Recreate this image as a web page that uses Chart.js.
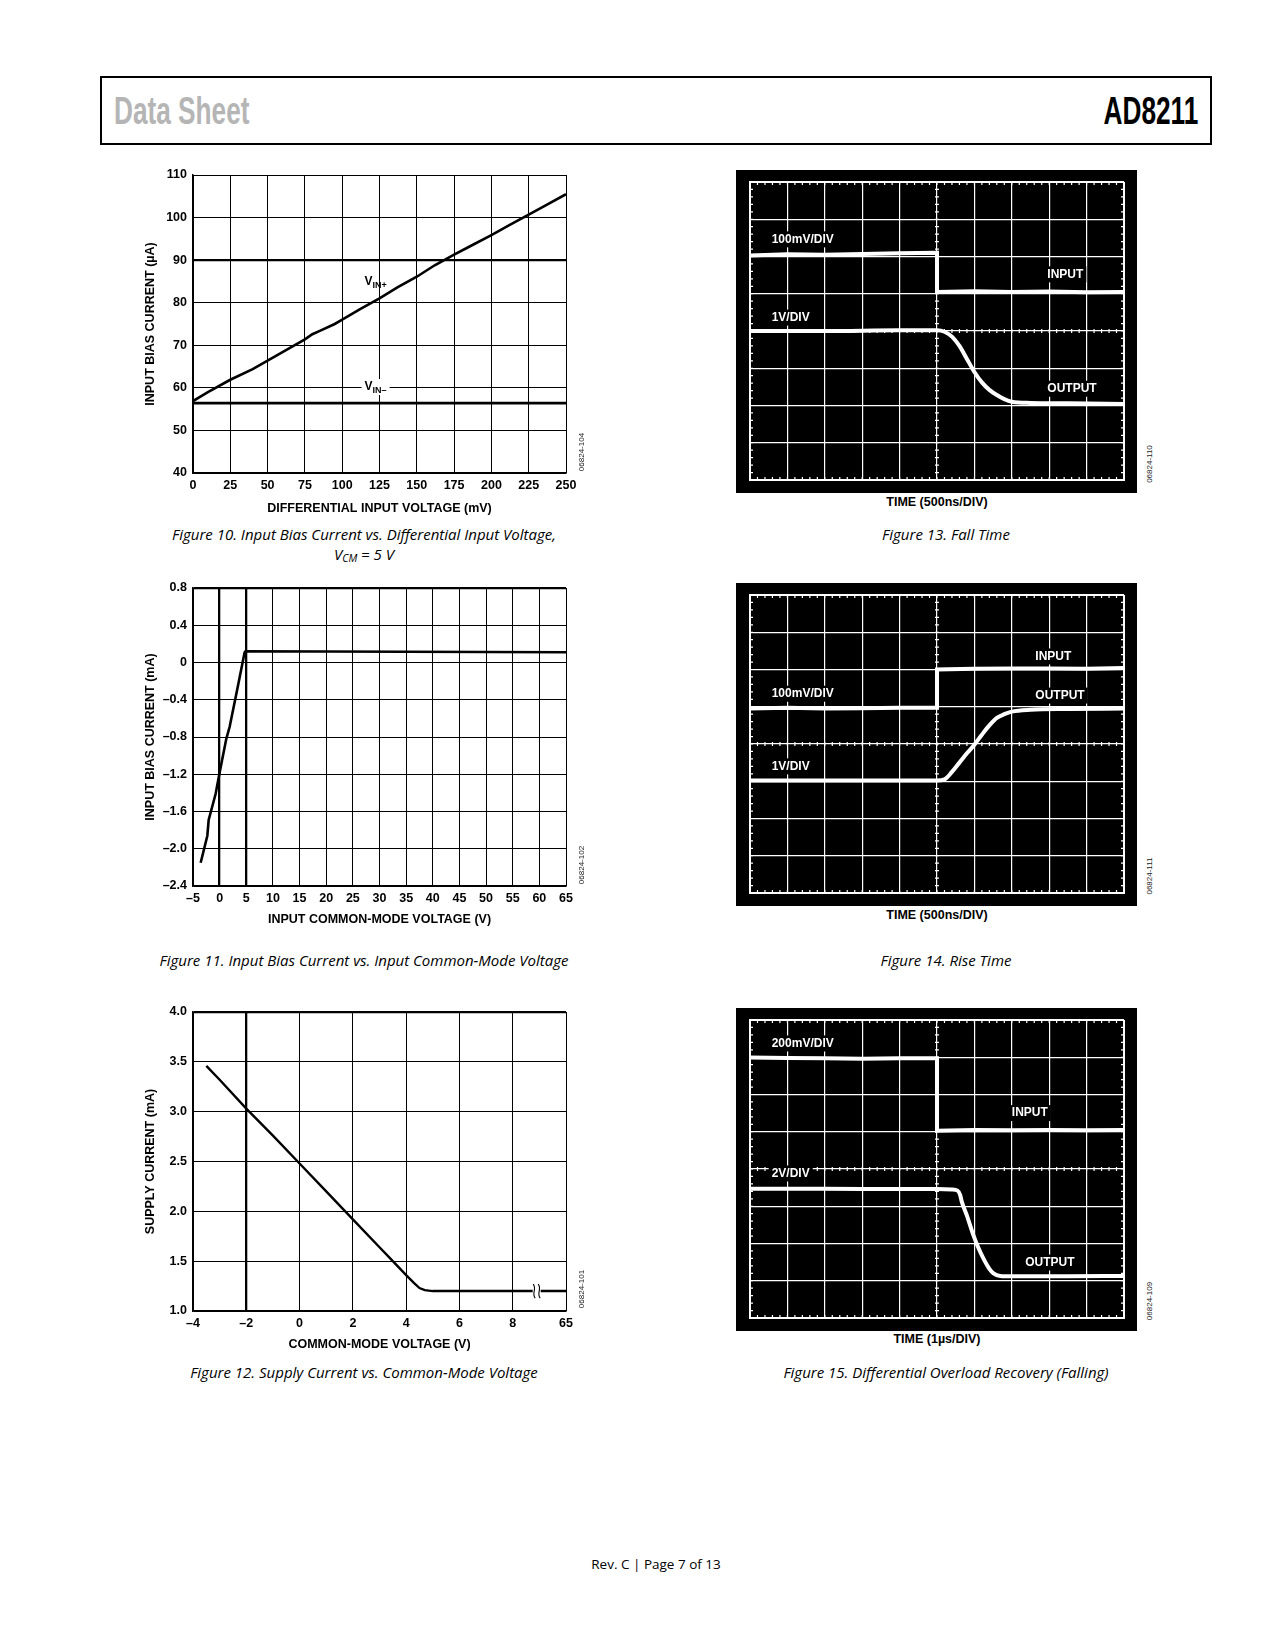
<!DOCTYPE html>
<html>
  <head>
    <title>AD8211 Data Sheet - Rev. C, Page 7</title>
    <meta charset="UTF-8">
    <style>
      body {
        margin: 0;
        background: #fff;
      }
      .page {
        position: relative;
        width: 1275px;
        height: 1650px;
        overflow: hidden;
      }
      .hdr {
        position: absolute;
        left: 100px;
        top: 76px;
        width: 1108px;
        height: 65px;
        border: 2px solid #000;
      }
      .hdr-left, .hdr-right {
        position: absolute;
        top: 11px;
        font-family: "Liberation Sans", Arial, sans-serif;
        font-size: 38px;
        line-height: 44px;
        white-space: nowrap;
      }
      .hdr-left {
        left: 12px;
        color: #b5b5b5;
        font-weight: bold;
        transform: scaleX(0.69);
        transform-origin: left center;
      }
      .hdr-right {
        right: 12px;
        color: #000;
        font-weight: bold;
        transform: scaleX(0.69);
        transform-origin: right center;
      }
      canvas {
        position: absolute;
      }
      .scope {
        background: #000;
      }
      .cap {
        position: absolute;
        width: 560px;
        text-align: center;
        font-family: "Open Sans", "Noto Sans", sans-serif;
        font-style: italic;
        font-size: 15px;
        line-height: 20px;
        color: #000;
      }
      .cap sub {
        font-size: 10.5px;
        vertical-align: -2px;
      }
      .xlab {
        position: absolute;
        width: 300px;
        text-align: center;
        font-family: "Liberation Sans", Arial, sans-serif;
        font-weight: bold;
        font-size: 12.5px;
        line-height: 14px;
      }
      .id {
        position: absolute;
        width: 60px;
        text-align: center;
        font-family: "Liberation Sans", Arial, sans-serif;
        font-size: 8px;
        line-height: 10px;
        color: #222;
        transform: rotate(-90deg);
      }
      footer {
        position: absolute;
        left: 456px;
        top: 1555px;
        width: 400px;
        text-align: center;
        font-family: "Open Sans", "Noto Sans", sans-serif;
        font-size: 13.5px;
        line-height: 18px;
      }
    </style>
  </head>
  <body>
    <div class="page">
      <div class="hdr">
        <div class="hdr-left">Data Sheet</div>
        <div class="hdr-right">AD8211</div>
      </div>

      <!-- left column: measured curves -->
      <canvas id="fig10" width="460" height="357" style="left:140px; top:160px;"></canvas>
      <div class="id" style="left:552px; top:447px;">06824-104</div>
      <div class="cap" style="left:84px; top:524px;">Figure 10. Input Bias Current vs. Differential Input Voltage,<br>V<sub>CM</sub> = 5 V</div>

      <canvas id="fig11" width="460" height="355" style="left:140px; top:573px;"></canvas>
      <div class="id" style="left:552px; top:860px;">06824-102</div>
      <div class="cap" style="left:84px; top:950px;">Figure 11. Input Bias Current vs. Input Common-Mode Voltage</div>

      <canvas id="fig12" width="460" height="356" style="left:140px; top:997px;"></canvas>
      <div class="id" style="left:552px; top:1284px;">06824-101</div>
      <div class="cap" style="left:84px; top:1362px;">Figure 12. Supply Current vs. Common-Mode Voltage</div>

      <!-- right column: scope shots -->
      <canvas id="fig13" class="scope" width="401" height="323" style="left:736px; top:170px;"></canvas>
      <div class="xlab" style="left:787px; top:495px;">TIME (500ns/DIV)</div>
      <div class="id" style="left:1120px; top:459px;">06824-110</div>
      <div class="cap" style="left:666px; top:524px;">Figure 13. Fall Time</div>

      <canvas id="fig14" class="scope" width="401" height="323" style="left:736px; top:583px;"></canvas>
      <div class="xlab" style="left:787px; top:908px;">TIME (500ns/DIV)</div>
      <div class="id" style="left:1120px; top:871px;">06824-111</div>
      <div class="cap" style="left:666px; top:950px;">Figure 14. Rise Time</div>

      <canvas id="fig15" class="scope" width="401" height="323" style="left:736px; top:1008px;"></canvas>
      <div class="xlab" style="left:787px; top:1332px;">TIME (1µs/DIV)</div>
      <div class="id" style="left:1120px; top:1296px;">06824-109</div>
      <div class="cap" style="left:666px; top:1362px;">Figure 15. Differential Overload Recovery (Falling)</div>

      <footer>Rev. C | Page 7 of 13</footer>
    </div>

    <script src="https://cdn.jsdelivr.net/npm/chart.js@4.4.1/dist/chart.umd.min.js"></script>
    <script>
    // Figure 10: input bias current (uA) vs differential input voltage (mV)
    var fig10Vdiff = [0, 10, 25, 40, 50, 65, 75, 80, 85, 95, 100, 112, 125, 137, 150, 162, 175, 187, 200, 212, 225, 237, 250];
    var fig10VinPlus = [56.9, 59.0, 61.9, 64.4, 66.4, 69.4, 71.4, 72.6, 73.4, 75.0, 76.0, 78.5, 81.0, 83.6, 86.1, 88.8, 91.3, 93.5, 95.9, 98.2, 100.7, 103.0, 105.5];
    var fig10VminusX = [0, 250];
    var fig10VinMinus = [56.4, 56.4];

    // Figure 11: input bias current (mA) vs input common-mode voltage (V)
    var fig11Vcm = [-3.56, -2.31, -2.06, -0.75, 0, 1.25, 1.88, 3.44, 4.69, 4.85, 65];
    var fig11Ibias = [-2.15, -1.86, -1.69, -1.41, -1.18, -0.82, -0.69, -0.25, 0.11, 0.12, 0.11];

    // Figure 12: supply current (mA) vs common-mode voltage (V); 10 on the axis stands for 65 V
    var fig12Vcm = [-3.5, -3, -2, -1, 0, 1, 2, 3, 3.5, 4, 4.3, 4.5, 4.7, 5, 10];
    var fig12Isupply = [3.46, 3.32, 3.03, 2.76, 2.48, 2.2, 1.92, 1.64, 1.5, 1.36, 1.28, 1.23, 1.21, 1.2, 1.2];

    // scope shots, in divisions (x 0..10, y 0..8)
    var fig13InT = [0, 1, 2, 3, 4, 4.98, 5, 5, 6, 7, 8, 9, 10];
    var fig13Input = [6.03, 6.06, 6.05, 6.07, 6.09, 6.1, 6.1, 5.05, 5.07, 5.05, 5.06, 5.04, 5.05];
    var fig13OutT = [0, 2, 4, 5, 5.2, 5.4, 5.6, 5.8, 6.0, 6.2, 6.4, 6.6, 6.8, 7.0, 7.5, 8.5, 10];
    var fig13Output = [4.0, 4.0, 4.02, 4.02, 3.98, 3.85, 3.6, 3.25, 2.9, 2.62, 2.42, 2.28, 2.17, 2.1, 2.07, 2.06, 2.04];

    var fig14InT = [0, 1, 2, 3, 4, 5, 5, 6, 7, 8, 9, 10];
    var fig14Input = [4.95, 4.97, 4.95, 4.96, 4.97, 4.97, 6.0, 6.02, 6.03, 6.03, 6.02, 6.04];
    var fig14OutT = [0, 2, 4, 5, 5.2, 5.4, 5.6, 5.8, 6.0, 6.2, 6.4, 6.6, 6.8, 7.0, 7.5, 8.5, 10];
    var fig14Output = [3.02, 3.02, 3.02, 3.02, 3.05, 3.25, 3.5, 3.75, 3.98, 4.25, 4.5, 4.7, 4.8, 4.87, 4.92, 4.94, 4.95];

    var fig15InT = [0, 1, 2, 3, 4, 5, 5, 6, 7, 8, 9, 10];
    var fig15Input = [6.99, 6.98, 6.97, 6.96, 6.97, 6.97, 5.03, 5.05, 5.04, 5.05, 5.04, 5.05];
    var fig15OutT = [0, 2, 4, 5, 5.4, 5.55, 5.62, 5.66, 5.8, 5.97, 6.1, 6.24, 6.4, 6.51, 6.69, 7, 8.5, 10];
    var fig15Output = [3.47, 3.47, 3.46, 3.46, 3.45, 3.42, 3.3, 3.13, 2.75, 2.23, 1.9, 1.6, 1.32, 1.2, 1.13, 1.12, 1.12, 1.13];

    var sans = "'Liberation Sans', Arial, sans-serif";
    var axisFont = {family: sans, size: 12.5, weight: 'bold'};

    function pairs(xs, ys) {
        return xs.map(function (v, i) { return {x: v, y: ys[i]}; });
    }

    function near(a, b) {
        return Math.abs(a - b) < 1e-6;
    }

    // "–0.4" style labels with an en dash
    function dashNum(v, digits) {
        if (near(v, 0)) return '0';
        return (v < 0 ? '\u2013' : '') + Math.abs(v).toFixed(digits);
    }

    // text notes (and the axis break mark) placed at data coordinates
    var notesPlugin = {
        id: 'notes',
        afterDatasetsDraw: function (chart, args, opts) {
            var items = (opts && opts.items) || [];
            var ctx = chart.ctx;
            var xs = chart.scales.x, ys = chart.scales.y;
            items.forEach(function (it) {
                var px = xs.getPixelForValue(it.x);
                var py = ys.getPixelForValue(it.y);
                ctx.save();
                if (it.kind === 'break') {
                    ctx.fillStyle = '#fff';
                    ctx.fillRect(px - 4, py - 3, 8, 6);
                    ctx.strokeStyle = '#000';
                    ctx.lineWidth = 1.1;
                    [-2.5, 2.5].forEach(function (dx) {
                        ctx.beginPath();
                        ctx.moveTo(px + dx - 1, py - 7);
                        ctx.bezierCurveTo(px + dx + 3, py - 2, px + dx - 3, py + 2, px + dx + 1, py + 7);
                        ctx.stroke();
                    });
                    ctx.restore();
                    return;
                }
                ctx.textBaseline = 'middle';
                ctx.textAlign = 'left';
                ctx.font = opts.font;
                var w = ctx.measureText(it.text).width;
                var sw = 0;
                if (it.sub) {
                    ctx.font = opts.subFont;
                    sw = ctx.measureText(it.sub).width;
                }
                var bg = it.bg !== undefined ? it.bg : opts.bg;
                if (bg) {
                    ctx.fillStyle = bg;
                    ctx.fillRect(px - 3, py - 8, w + sw + 6, 16);
                }
                ctx.fillStyle = opts.color;
                ctx.font = opts.font;
                ctx.fillText(it.text, px, py);
                if (it.sub) {
                    ctx.font = opts.subFont;
                    ctx.fillText(it.sub, px + w, py + 4);
                }
                ctx.restore();
            });
        }
    };

    // small graticule ticks along the border and the centre lines of a scope screen
    var scopeTicks = {
        id: 'scopeTicks',
        beforeDatasetsDraw: function (chart) {
            var ctx = chart.ctx, a = chart.chartArea;
            var xs = chart.scales.x, ys = chart.scales.y;
            var cx = xs.getPixelForValue(5), cy = ys.getPixelForValue(4);
            ctx.save();
            ctx.strokeStyle = '#fff';
            ctx.lineWidth = 1.2;
            ctx.beginPath();
            for (var i = 0; i <= 50; i++) {
                var px = xs.getPixelForValue(i / 5);
                ctx.moveTo(px, a.top); ctx.lineTo(px, a.top + 3);
                ctx.moveTo(px, a.bottom); ctx.lineTo(px, a.bottom - 3);
                ctx.moveTo(px, cy - 2); ctx.lineTo(px, cy + 2);
            }
            for (var j = 0; j <= 40; j++) {
                var py = ys.getPixelForValue(j / 5);
                ctx.moveTo(a.left, py); ctx.lineTo(a.left + 3, py);
                ctx.moveTo(a.right, py); ctx.lineTo(a.right - 3, py);
                ctx.moveTo(cx - 2, py); ctx.lineTo(cx + 2, py);
            }
            ctx.stroke();
            ctx.restore();
        }
    };

    function gridPlot(canvasId, o) {
        return new Chart(document.getElementById(canvasId), {
            type: 'line',
            data: {datasets: o.datasets},
            options: {
                responsive: false,
                animation: false,
                layout: {padding: {top: 15, right: 34, left: 0, bottom: 0}},
                plugins: {
                    legend: {display: false},
                    tooltip: {enabled: false},
                    notes: o.notes || {items: []}
                },
                scales: {
                    x: {
                        type: 'linear',
                        min: o.xMin,
                        max: o.xMax,
                        ticks: {stepSize: o.xStep, autoSkip: false, maxRotation: 0, padding: 5,
                                color: '#000', font: axisFont, callback: o.xLabel},
                        grid: {
                            color: '#000',
                            drawTicks: false,
                            lineWidth: function (c) {
                                return o.xThick.some(function (t) { return near(c.tick.value, t); }) ? 2.3 : 1;
                            }
                        },
                        border: {color: '#000', width: 1.5},
                        title: {display: true, text: o.xTitle, color: '#000', font: axisFont, padding: {top: 4, bottom: 1}},
                        afterFit: function (s) { s.height = o.xHeight; }
                    },
                    y: {
                        type: 'linear',
                        min: o.yMin,
                        max: o.yMax,
                        ticks: {stepSize: o.yStep, autoSkip: false, padding: 6,
                                color: '#000', font: axisFont, callback: o.yLabel},
                        grid: {
                            color: '#000',
                            drawTicks: false,
                            lineWidth: function (c) {
                                return o.yThick.some(function (t) { return near(c.tick.value, t); }) ? 2.3 : 1;
                            }
                        },
                        border: {color: '#000', width: 1.5},
                        title: {display: true, text: o.yTitle, color: '#000', font: axisFont, padding: {top: 3, bottom: 2}},
                        afterFit: function (s) { s.width = 53; }
                    }
                }
            },
            plugins: [notesPlugin]
        });
    }

    function curve(xs, ys, width) {
        return {data: pairs(xs, ys), borderColor: '#000', borderWidth: width, pointRadius: 0, tension: 0, fill: false};
    }

    gridPlot('fig10', {
        datasets: [curve(fig10Vdiff, fig10VinPlus, 2.6), curve(fig10VminusX, fig10VinMinus, 2.8)],
        xMin: 0, xMax: 250, xStep: 25, xThick: [],
        yMin: 40, yMax: 110, yStep: 10, yThick: [90],
        xLabel: function (v) { return String(v); },
        yLabel: function (v) { return String(v); },
        xTitle: 'DIFFERENTIAL INPUT VOLTAGE (mV)',
        yTitle: 'INPUT BIAS CURRENT (µA)',
        xHeight: 44,
        notes: {
            font: 'bold 12px ' + sans, subFont: 'bold 9px ' + sans, color: '#000', bg: null,
            items: [
                {x: 115, y: 85, text: 'V', sub: 'IN+'},
                // this one sits on a gridline, so it gets a white box
                {x: 115, y: 60.2, text: 'V', sub: 'IN\u2013', bg: '#fff'}
            ]
        }
    });

    gridPlot('fig11', {
        datasets: [curve(fig11Vcm, fig11Ibias, 2.6)],
        xMin: -5, xMax: 65, xStep: 5, xThick: [0, 5],
        yMin: -2.4, yMax: 0.8, yStep: 0.4, yThick: [0.8],
        xLabel: function (v) { return dashNum(v, 0); },
        yLabel: function (v) { return dashNum(v, 1); },
        xTitle: 'INPUT COMMON-MODE VOLTAGE (V)',
        yTitle: 'INPUT BIAS CURRENT (mA)',
        xHeight: 42
    });

    gridPlot('fig12', {
        datasets: [curve(fig12Vcm, fig12Isupply, 2.4)],
        xMin: -4, xMax: 10, xStep: 2, xThick: [-2],
        yMin: 1, yMax: 4, yStep: 0.5, yThick: [4],
        xLabel: function (v) { return near(v, 10) ? '65' : dashNum(v, 0); },
        yLabel: function (v) { return v.toFixed(1); },
        xTitle: 'COMMON-MODE VOLTAGE (V)',
        yTitle: 'SUPPLY CURRENT (mA)',
        xHeight: 42,
        notes: {items: [{kind: 'break', x: 8.9, y: 1.2}]}
    });

    function scopePlot(canvasId, inT, input, outT, output, labels) {
        var edge = function (max) {
            return function (c) { return (near(c.tick.value, 0) || near(c.tick.value, max)) ? 2 : 1.2; };
        };
        return new Chart(document.getElementById(canvasId), {
            type: 'line',
            data: {
                datasets: [
                    {data: pairs(inT, input), borderColor: '#fff', borderWidth: 4, pointRadius: 0, tension: 0},
                    {data: pairs(outT, output), borderColor: '#fff', borderWidth: 4, pointRadius: 0, cubicInterpolationMode: 'monotone'}
                ]
            },
            options: {
                responsive: false,
                animation: false,
                layout: {padding: {left: 14, top: 12, right: 13, bottom: 13}},
                plugins: {
                    legend: {display: false},
                    tooltip: {enabled: false},
                    notes: {font: 'bold 12px ' + sans, color: '#fff', bg: '#000', items: labels}
                },
                scales: {
                    x: {
                        type: 'linear', min: 0, max: 10,
                        ticks: {display: false, stepSize: 1},
                        grid: {color: '#fff', lineWidth: edge(10), drawTicks: false},
                        border: {color: '#fff', width: 2},
                        afterFit: function (s) { s.height = 0; }
                    },
                    y: {
                        type: 'linear', min: 0, max: 8,
                        ticks: {display: false, stepSize: 1},
                        grid: {color: '#fff', lineWidth: edge(8), drawTicks: false},
                        border: {color: '#fff', width: 2},
                        afterFit: function (s) { s.width = 0; }
                    }
                }
            },
            plugins: [scopeTicks, notesPlugin]
        });
    }

    scopePlot('fig13', fig13InT, fig13Input, fig13OutT, fig13Output, [
        {x: 0.58, y: 6.46, text: '100mV/DIV'},
        {x: 7.95, y: 5.52, text: 'INPUT'},
        {x: 0.58, y: 4.36, text: '1V/DIV'},
        {x: 7.95, y: 2.45, text: 'OUTPUT'}
    ]);

    scopePlot('fig14', fig14InT, fig14Input, fig14OutT, fig14Output, [
        {x: 7.63, y: 6.35, text: 'INPUT'},
        {x: 7.63, y: 5.3, text: 'OUTPUT'},
        {x: 0.58, y: 5.35, text: '100mV/DIV'},
        {x: 0.58, y: 3.4, text: '1V/DIV'}
    ]);

    scopePlot('fig15', fig15InT, fig15Input, fig15OutT, fig15Output, [
        {x: 0.58, y: 7.37, text: '200mV/DIV'},
        {x: 7.0, y: 5.5, text: 'INPUT'},
        {x: 0.58, y: 3.88, text: '2V/DIV'},
        {x: 7.36, y: 1.49, text: 'OUTPUT'}
    ]);
    </script>
  </body>
</html>
